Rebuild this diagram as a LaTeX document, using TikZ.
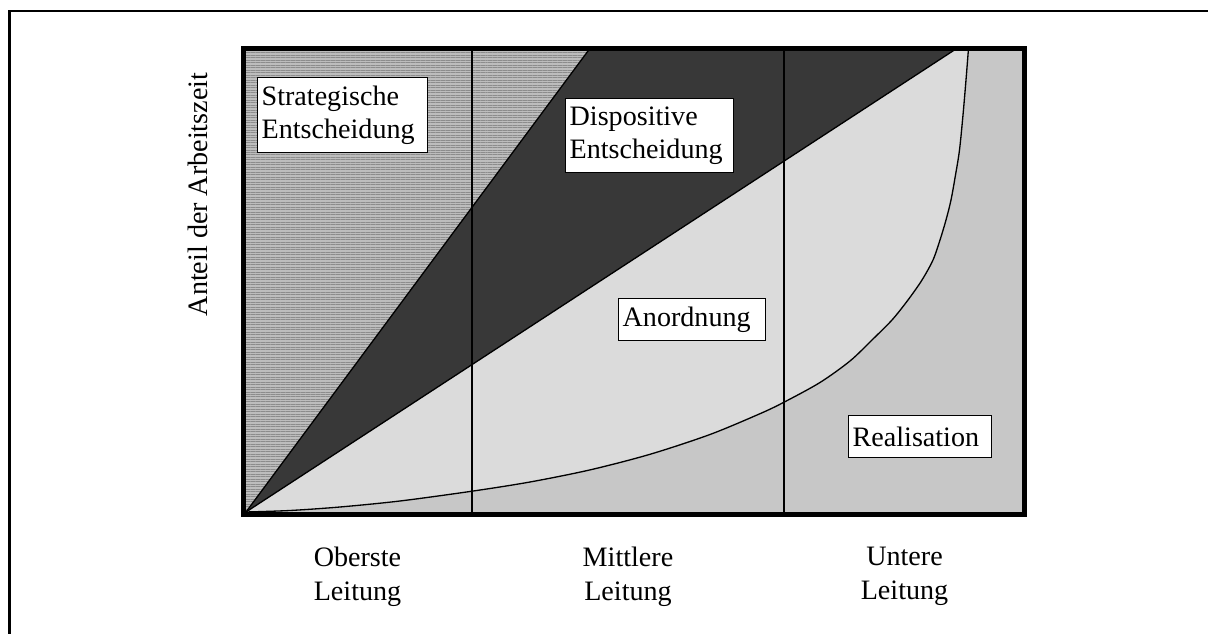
\documentclass[tikz,border=0pt]{standalone}
\usepackage{fontspec}
\setmainfont{Liberation Serif}
\usetikzlibrary{patterns.meta}
\definecolor{stratfill}{gray}{0.74}
\definecolor{stratline}{gray}{0.55}
\definecolor{dispfill}{gray}{0.22}
\definecolor{anofill}{gray}{0.86}
\definecolor{realfill}{gray}{0.78}
\tikzset{
  thinline/.style={line width=0.75pt, black},
  labelbox/.style={draw, line width=0.75pt, fill=white, anchor=north west,
    align=left, inner xsep=0.08cm, inner ysep=0pt,
    font=\fontsize{16}{18.5}\selectfont},
  axislabel/.style={align=center, inner sep=0pt,
    font=\fontsize{16}{19.3}\selectfont},
}
\begin{document}
\begin{tikzpicture}[x=0.02cm,y=-0.02cm]
\useasboundingbox (0,0) rectangle (1208,634);
\clip (0,0) rectangle (1208,634);
\fill[white] (0,0) rectangle (1208,634);
% outer frame (right and bottom run off the picture)
\draw[line width=1.4pt] (9.5,11) rectangle (1240,670);
% key points
\coordinate (O) at (246,512);
\coordinate (TL) at (243.5,48.3);
\coordinate (BR) at (1024.5,514.5);
\coordinate (TLin) at (246,48.3);
\coordinate (S) at (590,48.3);
\coordinate (D) at (957,48.3);
\coordinate (C) at (968.5,48.3);
\coordinate (V1t) at (472,48);
\coordinate (V1b) at (472,514);
\coordinate (V2t) at (784,48);
\coordinate (V2b) at (784,514);
% regions
\fill[realfill] (TL) rectangle (BR);
\fill[anofill] plot[smooth, tension=0.5] coordinates {(246,512) (290,510.5) (340,507) (400,501) (472,491.2) (530,482) (590,469.9) (650,454.3) (710,434.5) (760,413.7) (784,402.2) (820,382.5) (850,361) (872,340) (892,320) (908,300) (922,280) (933,260) (940,240) (946,220) (951,200) (955.5,175) (959.5,150) (963,115) (966,80) (968.5,48.3)} -- (D) -- cycle;
\fill[dispfill] (O) -- (S) -- (D) -- cycle;
\fill[stratfill] (O) -- (TLin) -- (S) -- cycle;
\fill[pattern={Lines[angle=0,distance=1.42pt,line width=0.55pt]}, pattern color=stratline] (O) -- (TLin) -- (S) -- cycle;
% boundary lines
\draw[thinline] (O) -- (S);
\draw[thinline] (O) -- (D);
\draw[thinline] plot[smooth, tension=0.5] coordinates {(246,512) (290,510.5) (340,507) (400,501) (472,491.2) (530,482) (590,469.9) (650,454.3) (710,434.5) (760,413.7) (784,402.2) (820,382.5) (850,361) (872,340) (892,320) (908,300) (922,280) (933,260) (940,240) (946,220) (951,200) (955.5,175) (959.5,150) (963,115) (966,80) (968.5,48.3)};
\draw[thinline] (V1t) -- (V1b);
\draw[thinline] (V2t) -- (V2b);
\draw[line width=2.6pt] (TL) rectangle (BR);
% region labels
\node[labelbox, text width=3.24cm, minimum height=1.5cm] (strat) at (257,77) {Strategische\\Entscheidung};
\node[labelbox, text width=3.2cm, minimum height=1.48cm] (disp) at (565,98) {Dispositive\\Entscheidung};
\node[labelbox, text width=2.78cm, minimum height=0.84cm] (anord) at (618,298) {Anordnung};
\node[labelbox, text width=2.7cm, minimum height=0.84cm] (real) at (848,415) {Realisation};
% axis labels
\node[axislabel, rotate=90, anchor=base] (ylab) at (207,194.5) {Anteil der Arbeitszeit};
\node[axislabel] (ober) at (357.5,576.5) {Oberste\\Leitung};
\node[axislabel] (mitt) at (628,576.5) {Mittlere\\Leitung};
\node[axislabel] (unter) at (904.5,576.5) {Untere\\Leitung};
\end{tikzpicture}
\end{document}
